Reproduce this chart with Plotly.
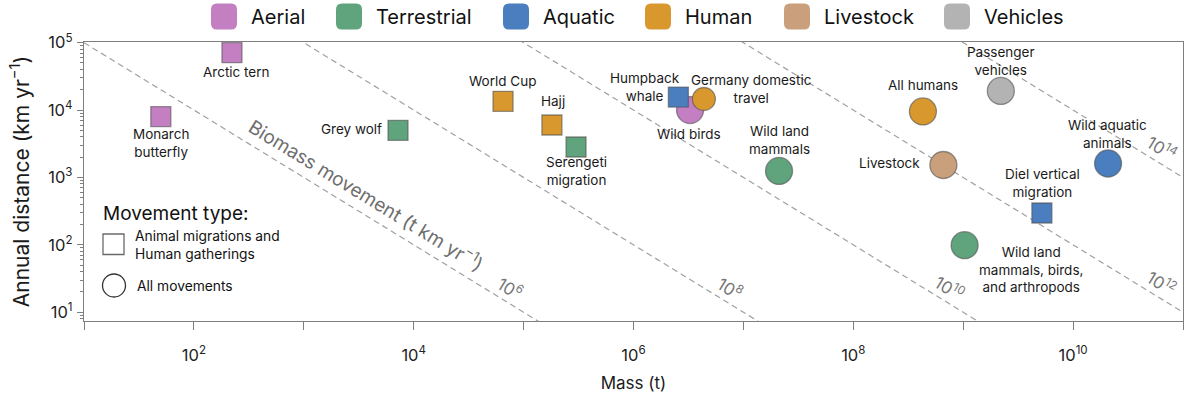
import math
import plotly.graph_objects as go

# ---------------- data ----------------
names = ["Monarch<br>butterfly", "Arctic tern", "Grey wolf", "World Cup", "Hajj",
         "Serengeti<br>migration", "Wild birds", "Humpback<br>whale",
         "Germany domestic<br>travel", "Wild land<br>mammals", "All humans", "Livestock",
         "Passenger<br>vehicles", "Wild land<br>mammals, birds,<br>and arthropods",
         "Diel vertical<br>migration", "Wild aquatic<br>animals"]
mass_t = [50, 222, 7200, 65000, 181000, 300000, 3.27e6, 2.56e6, 4.37e6, 2.11e7,
          4.3e8, 6.6e8, 2.2e9, 1.03e9, 5.2e9, 2.08e10]
distance_km = [8000, 71000, 5000, 13500, 6000, 2830, 10000, 15600, 14600, 1250,
               9530, 1530, 19200, 99, 297, 1610]
group = ["Aerial", "Aerial", "Terrestrial", "Human", "Human", "Terrestrial", "Aerial",
         "Aquatic", "Human", "Terrestrial", "Human", "Livestock", "Vehicles",
         "Terrestrial", "Aquatic", "Aquatic"]
movement = ["migration", "migration", "migration", "migration", "migration", "migration",
            "all", "migration", "all", "all", "all", "all", "all", "all", "migration", "all"]

categories = ["Aerial", "Terrestrial", "Aquatic", "Human", "Livestock", "Vehicles"]
biomass_levels = [1e6, 1e8, 1e10, 1e12, 1e14]
x_tick_powers = list(range(1, 12))
y_tick_powers = list(range(1, 6))

# ---------------- styles / layout ----------------
colors = {"Aerial": "#C47EC2", "Terrestrial": "#5FA47C", "Aquatic": "#4A7EBF",
          "Human": "#D8982E", "Livestock": "#C9A07B", "Vehicles": "#B3B3B3"}
# label offsets (px): xshift, yshift, xanchor
label_pos = [(0, -26, "center"), (5, -19, "center"), (-14, 1, "right"), (-1, 20, "center"),
             (1, 24, "center"), (0, -24, "center"), (-1, -24, "center"), (-33, 10, "center"),
             (48, 10, "center"), (0, 31, "center"), (0, 26, "center"), (-21, 2, "right"),
             (0, 30, "center"), (66, -24, "center"), (1, 30, "center"), (-1, 30, "center")]

FONT = "Inter"
W, H = 1200, 393
ML, MR, MT, MB = 84, 17, 42, 72
PW, PH = W - ML - MR, H - MT - MB
XR = [1.0, 11.0]
YR = [0.87, 5.01]


def px(x):
    return (x - ML) / PW


def py(y):
    return (MT + PH - y) / PH


angle = math.degrees(math.atan((PH / (YR[1] - YR[0])) / (PW / (XR[1] - XR[0]))))

fig = go.Figure()

# diagonal iso-biomass-movement lines
for c in biomass_levels:
    xs = [10 ** XR[0], 10 ** XR[1]]
    fig.add_trace(go.Scatter(x=xs, y=[c / v for v in xs], mode="lines",
                             line=dict(color="#A0A0A0", width=1.2, dash="6px,4px"),
                             hoverinfo="skip", showlegend=False))

# points
fig.add_trace(go.Scatter(
    x=mass_t, y=distance_km, mode="markers", showlegend=False,
    text=[n.replace("<br>", " ") for n in names], hoverinfo="text",
    marker=dict(color=[colors[g] for g in group],
                symbol=["square" if m == "migration" else "circle" for m in movement],
                size=[20 if m == "migration" else (23 if n.startswith("Germany") else 27)
                      for m, n in zip(movement, names)],
                line=dict(color="rgba(80,80,80,0.6)", width=1.3),
                opacity=1)))

annotations = []
for n, m, d, (xs_, ys_, xa) in zip(names, mass_t, distance_km, label_pos):
    annotations.append(dict(x=math.log10(m), y=math.log10(d), text=n, showarrow=False,
                            xshift=xs_, yshift=ys_, xanchor=xa, yanchor="middle",
                            align="center", font=dict(family=FONT, size=13.5, color="#1A1A1A")))

# level labels along dashed lines
for c in biomass_levels:
    p = round(math.log10(c))
    xl = min(p - 1.12, 10.81)
    annotations.append(dict(x=xl, y=p - xl, text=f"10<sup>{p}</sup>", showarrow=False,
                            yshift=17, textangle=angle,
                            font=dict(family=FONT, size=17, color="#777777")))

# "Biomass movement" label along 10^6 line
annotations.append(dict(x=3.575, y=6 - 3.575, text="Biomass movement (t km yr<sup>−1</sup>)",
                        showarrow=False, yshift=21, textangle=angle,
                        font=dict(family=FONT, size=19, color="#6E6E6E")))

shapes = []
# top legend (manual, rounded swatches)
sw_left = [211, 336, 503, 645, 784, 944]
for cat, L in zip(categories, sw_left):
    x0, x1 = px(L), px(L + 26)
    y0, y1 = py(29.5), py(3.5)
    rx, ry = 6 / PW, 6 / PH
    path = (f"M {x0+rx},{y0} L {x1-rx},{y0} Q {x1},{y0} {x1},{y0+ry} L {x1},{y1-ry} "
            f"Q {x1},{y1} {x1-rx},{y1} L {x0+rx},{y1} Q {x0},{y1} {x0},{y1-ry} "
            f"L {x0},{y0+ry} Q {x0},{y0} {x0+rx},{y0} Z")
    shapes.append(dict(type="path", xref="paper", yref="paper", path=path,
                       fillcolor=colors[cat], line=dict(width=0)))
    annotations.append(dict(xref="paper", yref="paper", x=px(L + 38), y=py(16.5), text=cat,
                            showarrow=False, xanchor="left", yanchor="middle",
                            font=dict(family=FONT, size=20, color="#111111")))

# movement type legend
annotations.append(dict(xref="paper", yref="paper", x=px(101), y=py(213), text="Movement type:",
                        showarrow=False, xanchor="left", yanchor="middle",
                        font=dict(family=FONT, size=19, color="#111111")))
shapes.append(dict(type="rect", xref="paper", yref="paper", x0=px(103), x1=px(124),
                   y0=py(254.5), y1=py(234), line=dict(color="#6A6A6A", width=1.3),
                   fillcolor="rgba(0,0,0,0)"))
annotations.append(dict(xref="paper", yref="paper", x=px(133), y=py(245),
                        text="Animal migrations and<br>Human gatherings", align="left",
                        showarrow=False, xanchor="left", yanchor="middle",
                        font=dict(family=FONT, size=13.8, color="#111111")))
shapes.append(dict(type="circle", xref="paper", yref="paper", x0=px(102.5), x1=px(125.5),
                   y0=py(297), y1=py(274), line=dict(color="#333333", width=1.3),
                   fillcolor="rgba(0,0,0,0)"))
annotations.append(dict(xref="paper", yref="paper", x=px(135), y=py(286), text="All movements",
                        showarrow=False, xanchor="left", yanchor="middle",
                        font=dict(family=FONT, size=13.8, color="#111111")))

axis_common = dict(type="log", showgrid=False, zeroline=False, showline=True,
                   linecolor="#7F7F7F", linewidth=1.4, mirror=True, ticks="outside",
                   tickcolor="#7F7F7F", tickwidth=1.2, tickmode="array", automargin=False)

fig.update_layout(
    width=W, height=H, autosize=False,
    margin=dict(l=ML, r=MR, t=MT, b=MB, pad=0),
    paper_bgcolor="white", plot_bgcolor="white",
    font=dict(family=FONT, color="#1A1A1A"),
    xaxis=dict(**axis_common, range=XR,
               tickvals=[10 ** p for p in x_tick_powers],
               ticktext=[f"10<sup>{p}</sup>" if p % 2 == 0 else "" for p in x_tick_powers],
               ticklen=8, ticklabelstandoff=11,
               tickfont=dict(family=FONT, size=16.5, color="#222222"),
               title=dict(text="Mass (t)", standoff=14,
                          font=dict(family=FONT, size=17, color="#1A1A1A"))),
    yaxis=dict(**axis_common, range=YR,
               tickvals=[10 ** p for p in y_tick_powers],
               ticktext=[f"10<sup>{p}</sup>" for p in y_tick_powers],
               ticklen=6, ticklabelstandoff=1,
               minor=dict(tickmode="array",
                          tickvals=[k * 10 ** p for p in range(0, 6) for k in range(2, 10)],
                          ticks="outside", ticklen=3, tickcolor="#7F7F7F", tickwidth=1),
               tickfont=dict(family=FONT, size=16.5, color="#222222"),
               title=dict(text="Annual distance (km yr<sup>−1</sup>)", standoff=12,
                          font=dict(family=FONT, size=21, color="#1A1A1A"))),
    annotations=annotations, shapes=shapes,
)

fig.write_html("out.html", config={"displayModeBar": False},
               post_script="document.body.style.margin='0';")
